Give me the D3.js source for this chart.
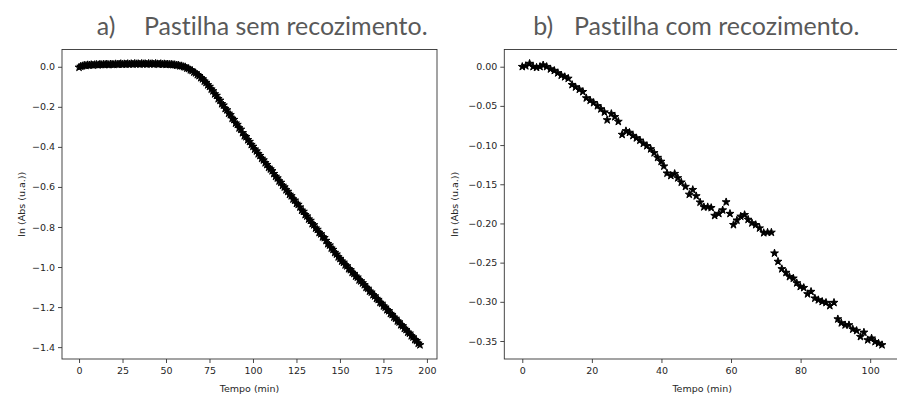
<!DOCTYPE html>
<html><head><meta charset="utf-8">
<script src="https://cdn.jsdelivr.net/npm/d3@7"></script>
<style>body{margin:0;background:#fff;overflow:hidden}</style>
</head><body>
<svg id="c" width="897" height="396"></svg>
<script>
// ---------- data ----------
const leftTime = [0,1,2,3,4,5,6,7,8,9,10,11,12,13,14,15,16,17,18,19,20,21,22,23,24,25,26,27,28,29,30,31,32,33,34,35,36,37,38,39,40,41,42,43,44,45,46,47,48,49,50,51,52,53,54,55,56,57,58,59,60,61,62,63,64,65,66,67,68,69,70,71,72,73,74,75,76,77,78,79,80,81,82,83,84,85,86,87,88,89,90,91,92,93,94,95,96,97,98,99,100,101,102,103,104,105,106,107,108,109,110,111,112,113,114,115,116,117,118,119,120,121,122,123,124,125,126,127,128,129,130,131,132,133,134,135,136,137,138,139,140,141,142,143,144,145,146,147,148,149,150,151,152,153,154,155,156,157,158,159,160,161,162,163,164,165,166,167,168,169,170,171,172,173,174,175,176,177,178,179,180,181,182,183,184,185,186,187,188,189,190,191,192,193,194,195,196];
const leftValue = [
-0.003,0.002,0.004,0.007,0.006,0.009,0.008,0.010,0.008,0.010,
0.011,0.009,0.012,0.010,0.012,0.011,0.013,0.010,0.013,0.012,
0.011,0.014,0.012,0.013,0.015,0.012,0.014,0.013,0.015,0.013,
0.015,0.013,0.016,0.014,0.015,0.013,0.016,0.014,0.015,0.013,
0.016,0.014,0.015,0.013,0.016,0.014,0.013,0.015,0.012,0.014,
0.012,0.013,0.011,0.012,0.010,0.010,0.007,0.008,0.004,0.004,
0.000,-0.001,-0.007,-0.009,-0.016,-0.019,-0.027,-0.031,-0.040,-0.045,
-0.055,-0.061,-0.072,-0.079,-0.091,-0.099,-0.112,-0.121,-0.136,-0.144,
-0.160,-0.168,-0.185,-0.192,-0.209,-0.216,-0.233,-0.240,-0.258,-0.264,
-0.282,-0.289,-0.306,-0.313,-0.330,-0.345,-0.350,-0.365,-0.374,-0.389,
-0.398,-0.412,-0.421,-0.435,-0.444,-0.458,-0.466,-0.480,-0.489,-0.503,
-0.511,-0.520,-0.534,-0.548,-0.556,-0.571,-0.578,-0.593,-0.601,-0.615,
-0.623,-0.638,-0.645,-0.661,-0.667,-0.683,-0.688,-0.701,-0.717,-0.723,
-0.739,-0.746,-0.761,-0.768,-0.784,-0.790,-0.806,-0.813,-0.828,-0.835,
-0.850,-0.854,-0.868,-0.884,-0.891,-0.906,-0.913,-0.928,-0.936,-0.950,
-0.958,-0.971,-0.977,-0.990,-0.995,-1.009,-1.014,-1.027,-1.033,-1.046,
-1.051,-1.065,-1.070,-1.080,-1.089,-1.102,-1.107,-1.121,-1.126,-1.139,
-1.145,-1.158,-1.163,-1.177,-1.182,-1.195,-1.201,-1.214,-1.219,-1.233,
-1.238,-1.251,-1.257,-1.270,-1.275,-1.289,-1.294,-1.307,-1.313,-1.326,
-1.331,-1.344,-1.350,-1.363,-1.368,-1.381,-1.389];

const rightTime = [0,1.0,2.1,3.1,4.1,5.1,6.0,7.0,8.1,9.2,10.2,11.2,12.2,13.2,14.3,15.3,16.4,17.4,18.4,19.5,20.5,21.6,22.6,23.6,24.4,25.6,26.6,27.6,28.7,29.8,30.8,31.8,32.8,33.8,34.8,35.8,36.9,37.9,38.9,39.9,40.7,41.6,42.7,43.8,44.7,45.7,46.9,48.0,49.0,50.0,51.1,52.2,53.3,54.3,55.3,56.5,57.6,58.6,59.7,60.7,61.7,62.8,63.9,64.9,66.0,67.1,68.2,69.4,70.5,71.6,72.5,73.5,74.6,75.8,76.8,77.9,78.9,79.9,80.9,82.0,83.0,84.1,85.1,86.2,87.3,88.4,89.6,90.7,91.7,92.8,93.9,95.0,96.1,97.2,98.2,99.3,100.4,101.4,102.4,103.4];
const rightValue = [0.000,0.001,0.004,0.000,-0.001,0.000,0.002,0.000,-0.003,-0.005,
-0.008,-0.011,-0.013,-0.015,-0.023,-0.026,-0.029,-0.032,-0.040,-0.043,
-0.046,-0.050,-0.054,-0.058,-0.068,-0.060,-0.064,-0.070,-0.0866,-0.082,
-0.084,-0.088,-0.091,-0.094,-0.098,-0.101,-0.105,-0.110,-0.116,-0.121,
-0.127,-0.136,-0.139,-0.1365,-0.142,-0.1475,-0.153,-0.163,-0.157,-0.165,
-0.173,-0.179,-0.179,-0.180,-0.190,-0.1875,-0.183,-0.1727,-0.1875,-0.2017,
-0.196,-0.191,-0.189,-0.195,-0.1995,-0.2017,-0.206,-0.212,-0.2115,-0.2115,
-0.238,-0.2486,-0.258,-0.2627,-0.268,-0.270,-0.276,-0.2806,-0.282,-0.290,
-0.287,-0.2955,-0.2976,-0.2997,-0.301,-0.305,-0.301,-0.322,-0.327,-0.3296,
-0.3296,-0.335,-0.3368,-0.3445,-0.339,-0.3487,-0.3465,-0.351,-0.353,-0.355];

const leftXTicks = [0,25,50,75,100,125,150,175,200];
const leftYTicks = [0.0,-0.2,-0.4,-0.6,-0.8,-1.0,-1.2,-1.4];
const rightXTicks = [0,20,40,60,80,100];
const rightYTicks = [0.00,-0.05,-0.10,-0.15,-0.20,-0.25,-0.30,-0.35];
const titleLetters = ["a)", "b)"];
const titleTexts = ["Pastilha sem recozimento.", "Pastilha com recozimento."];
const xLabel = "Tempo (min)";
const yLabel = "ln (Abs (u.a.))";

// ---------- drawing ----------
const svg = d3.select("#c");
const tickFont = "'DejaVu Sans', sans-serif";
const tickSize = 9.5;

function pad(ext){ const r = ext[1]-ext[0]; return [ext[0]-0.05*r, ext[1]+0.05*r]; }

function panel(opts){
  const {left, right, top, bottom, times, values, xt, yt, xfmt, yfmt, ylabX} = opts;
  const x = d3.scaleLinear().domain(pad(d3.extent(times))).range([left, right]);
  const y = d3.scaleLinear().domain(pad(d3.extent(values))).range([bottom, top]);
  const g = svg.append("g");

  const ax = g.append("g").attr("transform", `translate(0,${bottom})`)
    .call(d3.axisBottom(x).tickValues(xt).tickFormat(xfmt).tickSize(4).tickPadding(4));
  const ay = g.append("g").attr("transform", `translate(${left},0)`)
    .call(d3.axisLeft(y).tickValues(yt).tickFormat(yfmt).tickSize(4).tickPadding(3));
  [ax, ay].forEach(a => {
    a.select(".domain").remove();
    a.selectAll("line").attr("stroke", "#333").attr("stroke-width", 0.9);
    a.selectAll("text").attr("fill", "#262626").style("font-family", tickFont).style("font-size", tickSize + "px");
  });

  const pts = times.map((t,i) => [t, values[i]]);
  const sym = d3.symbol().type(d3.symbolStar).size(19);
  g.append("g").selectAll("path").data(pts).join("path")
    .attr("d", sym)
    .attr("transform", d => `translate(${x(d[0])},${y(d[1])})`)
    .attr("fill", "#000").attr("stroke", "#000").attr("stroke-width", 1);

  g.append("rect").attr("x", left).attr("y", top).attr("width", right-left).attr("height", bottom-top)
    .attr("fill", "none").attr("stroke", "#333").attr("stroke-width", 0.9);

  g.append("text").text(xLabel).attr("x", (left+right)/2).attr("y", bottom + 33)
    .attr("text-anchor", "middle").attr("fill", "#262626")
    .style("font-family", tickFont).style("font-size", tickSize + "px");
  g.append("text").text(yLabel)
    .attr("transform", `translate(${ylabX},${(top+bottom)/2}) rotate(-90)`)
    .attr("text-anchor", "middle").attr("fill", "#262626")
    .style("font-family", tickFont).style("font-size", tickSize + "px");
}

panel({left:62, right:437, top:49.5, bottom:359, times:leftTime, values:leftValue,
  xt:leftXTicks, yt:leftYTicks, xfmt:d3.format("d"), yfmt:d3.format(".1f"), ylabX:25});
panel({left:504.3, right:900, top:49.5, bottom:359, times:rightTime, values:rightValue,
  xt:rightXTicks, yt:rightYTicks, xfmt:d3.format("d"), yfmt:d3.format(".2f"), ylabX:458});

// titles
const titleFont = "Lato, 'Open Sans', sans-serif";
const titleColor = "#595959";
const letterX = [96.7, 533.3];
const textX = [144, 574];
const targetW = 283.7;
let fs = 26;
const probe = svg.append("text").text(titleTexts[0]).style("font-family", titleFont)
  .style("font-size", fs + "px").style("font-variant-ligatures", "none");
const w = probe.node().getComputedTextLength();
probe.remove();
fs = fs * targetW / w;
titleTexts.forEach((t, i) => {
  svg.append("text").text(titleLetters[i]).attr("x", letterX[i]).attr("y", 34.5)
    .attr("fill", titleColor).style("font-family", titleFont).style("font-size", fs + "px");
  svg.append("text").text(t).attr("x", textX[i]).attr("y", 34.5)
    .attr("fill", titleColor).style("font-family", titleFont).style("font-size", fs + "px")
    .style("font-variant-ligatures", "none");
});
</script>
</body></html>
